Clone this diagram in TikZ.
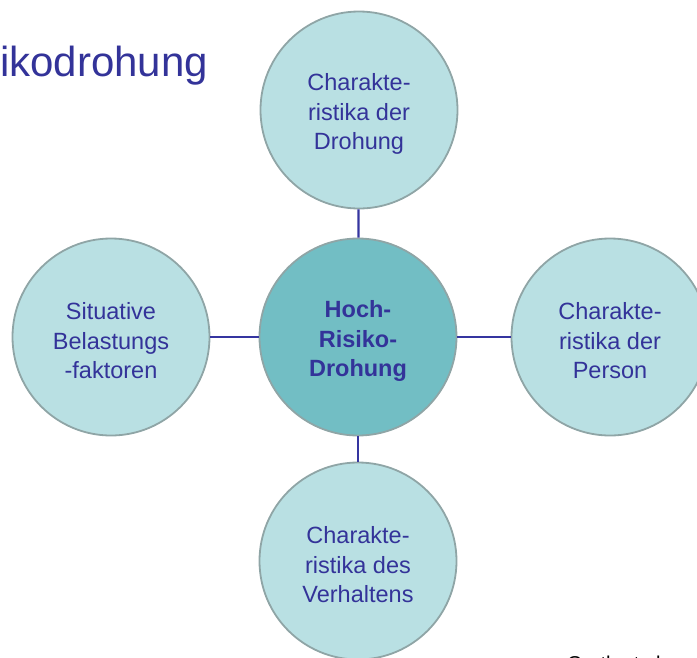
\documentclass[tikz,border=0pt]{standalone}
\usepackage{fontspec}
\setmainfont{Liberation Sans}
\definecolor{txtblue}{HTML}{333399}
\definecolor{linkblue}{HTML}{3535A0}
\definecolor{lightfill}{HTML}{B9E0E3}
\definecolor{darkfill}{HTML}{72BEC4}
\definecolor{rimgray}{HTML}{8FA5A6}
\tikzset{
  bubble/.style={circle, draw=rimgray, line width=1.8pt, fill=lightfill,
    minimum size=197pt, inner sep=0pt},
  hub/.style={bubble, fill=darkfill},
  bubtext/.style={align=center, text=txtblue, inner sep=0pt,
    font=\fontsize{23.5pt}{29.5pt}\selectfont},
  hubtext/.style={bubtext, font=\fontsize{23.5pt}{29.5pt}\selectfont\bfseries},
  link/.style={draw=linkblue, line width=2.2pt}
}
\begin{document}
\begin{tikzpicture}[x=1pt,y=-1pt]
\useasboundingbox (0,0) rectangle (697,657);
\node[anchor=base west, inner sep=0pt, text=txtblue, font=\fontsize{42pt}{50pt}\selectfont] (title) at (0,76) {ikodrohung};
\node[bubble] (top) at (359,110) {};
\node[hub] (hub) at (358,337) {};
\node[bubble] (left) at (111,337) {};
\node[bubble] (right) at (610,337) {};
\node[bubble] (bottom) at (358,561) {};
\node[bubtext] (topt) at (359,114) {Charakte-\\ristika der\\Drohung};
\node[hubtext] (hubt) at (358,341) {Hoch-\\Risiko-\\Drohung};
\node[bubtext] (leftt) at (111,341) {Situative\\Belastungs\\-faktoren};
\node[bubtext] (rightt) at (610,341) {Charakte-\\ristika der\\Person};
\node[bubtext] (bottomt) at (358,565) {Charakte-\\ristika des\\Verhaltens};
\draw[link] (top) -- (hub);
\draw[link] (hub) -- (bottom);
\draw[link] (left) -- (hub);
\draw[link] (hub) -- (right);
\node[anchor=base west, inner sep=0pt, font=\fontsize{20pt}{24pt}\selectfont] (src) at (567,670) {Gerth et al.};
\end{tikzpicture}
\end{document}
